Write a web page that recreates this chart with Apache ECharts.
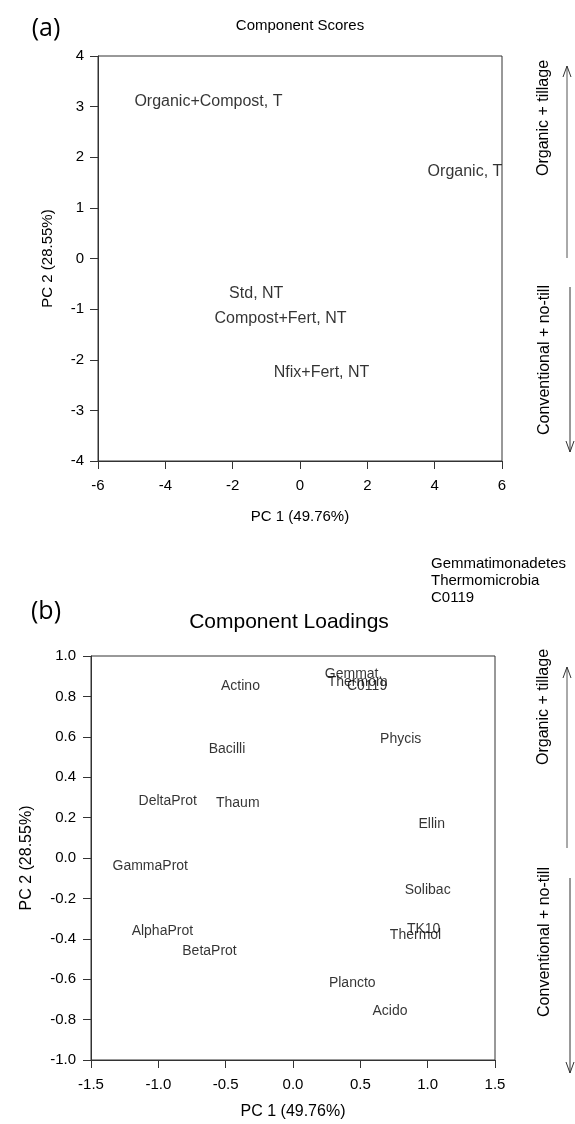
<!DOCTYPE html>
<html>
<head>
<meta charset="utf-8">
<script src="https://cdn.jsdelivr.net/npm/echarts@6/dist/echarts.min.js"></script>
<style>
  html, body { margin: 0; padding: 0; background: #fff; }
  #main { width: 575px; height: 1124px; }
</style>
</head>
<body>
<div id="main"></div>
<script>
// (a) component scores
var scoreNames = ['Organic+Compost, T', 'Organic, T', 'Std, NT', 'Compost+Fert, NT', 'Nfix+Fert, NT'];
var scorePC1 = [-2.72, 4.90, -1.30, -0.58, 0.64];
var scorePC2 = [3.10, 1.71, -0.69, -1.18, -2.25];

// (b) component loadings
var loadNames = ['Actino', 'Gemmat.', 'Thermom', 'C0119', 'Phycis', 'Bacilli', 'DeltaProt', 'Thaum', 'Ellin',
    'GammaProt', 'Solibac', 'AlphaProt', 'TK10', 'Thermol', 'BetaProt', 'Plancto', 'Acido'];
var loadPC1 = [-0.39, 0.45, 0.48, 0.55, 0.80, -0.49, -0.93, -0.41, 1.03,
    -1.06, 1.00, -0.97, 0.97, 0.91, -0.62, 0.44, 0.72];
var loadPC2 = [0.85, 0.91, 0.87, 0.85, 0.59, 0.54, 0.28, 0.27, 0.17,
    -0.04, -0.16, -0.36, -0.35, -0.38, -0.46, -0.62, -0.76];

var legendLines = ['Gemmatimonadetes', 'Thermomicrobia', 'C0119'];

function toPoints(names, xs, ys) {
    var arr = [];
    for (var i = 0; i < names.length; i++) {
        arr.push({name: names[i], value: [xs[i], ys[i]]});
    }
    return arr;
}

var font = '"Liberation Sans", Arial, sans-serif';
var lineCol = '#333';

function valueAxis(gridIndex, min, max, step, digits, name, nameGap, nameSize, labelMargin) {
    return {
        type: 'value',
        gridIndex: gridIndex,
        min: min,
        max: max,
        interval: step,
        name: name,
        nameLocation: 'middle',
        nameGap: nameGap,
        nameTextStyle: {color: '#000', fontFamily: font, fontSize: nameSize},
        axisLine: {show: true, onZero: false, lineStyle: {color: lineCol, width: 1}},
        axisTick: {show: true, inside: false, length: 8, lineStyle: {color: lineCol}},
        axisLabel: {
            color: '#000', fontFamily: font, fontSize: 15, margin: labelMargin,
            formatter: function (v) { return (+v).toFixed(digits); }
        },
        splitLine: {show: false}
    };
}

// text annotations next to each panel
function sideNotes(yUpTop, yUpBot, yDnTop, yDnBot, yTxtUp, yTxtDn) {
    return [
        {type: 'text', x: 544, y: yTxtUp, rotation: Math.PI / 2,
            style: {text: 'Organic + tillage', font: '16px ' + font, fill: '#000', align: 'center', verticalAlign: 'middle'}},
        {type: 'text', x: 545, y: yTxtDn, rotation: Math.PI / 2,
            style: {text: 'Conventional + no-till', font: '16px ' + font, fill: '#000', align: 'center', verticalAlign: 'middle'}},
        {type: 'line', shape: {x1: 567, y1: yUpBot, x2: 567, y2: yUpTop}, style: {stroke: '#555', lineWidth: 1}},
        {type: 'polyline', shape: {points: [[563, yUpTop + 11], [567, yUpTop], [571, yUpTop + 11]]}, style: {stroke: '#333', fill: null, lineWidth: 1}},
        {type: 'line', shape: {x1: 570, y1: yDnTop, x2: 570, y2: yDnBot}, style: {stroke: '#333', lineWidth: 1}},
        {type: 'polyline', shape: {points: [[566, yDnBot - 11], [570, yDnBot], [574, yDnBot - 11]]}, style: {stroke: '#333', fill: null, lineWidth: 1}}
    ];
}

var graphics = [
    {type: 'text', x: 46, y: 29, style: {text: '(a)', font: '25px "Open Sans", sans-serif', fill: '#000', align: 'center', verticalAlign: 'middle'}},
    {type: 'text', x: 300, y: 26, style: {text: 'Component Scores', font: '15px ' + font, fill: '#000', align: 'center', verticalAlign: 'middle'}},
    {type: 'text', x: 46, y: 612, style: {text: '(b)', font: '25px "Open Sans", sans-serif', fill: '#000', align: 'center', verticalAlign: 'middle'}},
    {type: 'text', x: 289, y: 622, style: {text: 'Component Loadings', font: '21px ' + font, fill: '#000', align: 'center', verticalAlign: 'middle'}},
    {type: 'text', x: 431, y: 555, style: {text: legendLines.join('\n'), font: '15px ' + font, lineHeight: 17, fill: '#000', align: 'left', verticalAlign: 'top'}}
].concat(sideNotes(66, 258, 287, 452, 118, 360), sideNotes(667, 848, 878, 1073, 707, 942));

var myChart = echarts.init(document.getElementById('main'), null, {renderer: 'canvas'});
var option = {
    animation: false,
    backgroundColor: '#fff',
    grid: [
        {left: 98, top: 56, width: 404, height: 405, show: true, borderColor: lineCol, borderWidth: 1, containLabel: false},
        {left: 91, top: 656, width: 404, height: 404, show: true, borderColor: lineCol, borderWidth: 1, containLabel: false}
    ],
    xAxis: [
        valueAxis(0, -6, 6, 2, 0, 'PC 1 (49.76%)', 48, 15, 17),
        valueAxis(1, -1.5, 1.5, 0.5, 1, 'PC 1 (49.76%)', 44, 16, 17)
    ],
    yAxis: [
        valueAxis(0, -4, 4, 1, 0, 'PC 2 (28.55%)', 43, 15, 14),
        valueAxis(1, -1, 1, 0.2, 1, 'PC 2 (28.55%)', 56, 16, 15)
    ],
    graphic: graphics,
    series: [
        {
            type: 'scatter',
            xAxisIndex: 0,
            yAxisIndex: 0,
            symbolSize: 0,
            data: toPoints(scoreNames, scorePC1, scorePC2),
            label: {show: true, position: 'inside', formatter: '{b}', color: '#000', fontFamily: font, fontSize: 16}
        },
        {
            type: 'scatter',
            xAxisIndex: 1,
            yAxisIndex: 1,
            symbolSize: 0,
            data: toPoints(loadNames, loadPC1, loadPC2),
            label: {show: true, position: 'inside', formatter: '{b}', color: '#000', fontFamily: font, fontSize: 14}
        }
    ]
};
myChart.setOption(option);
</script>
</body>
</html>
